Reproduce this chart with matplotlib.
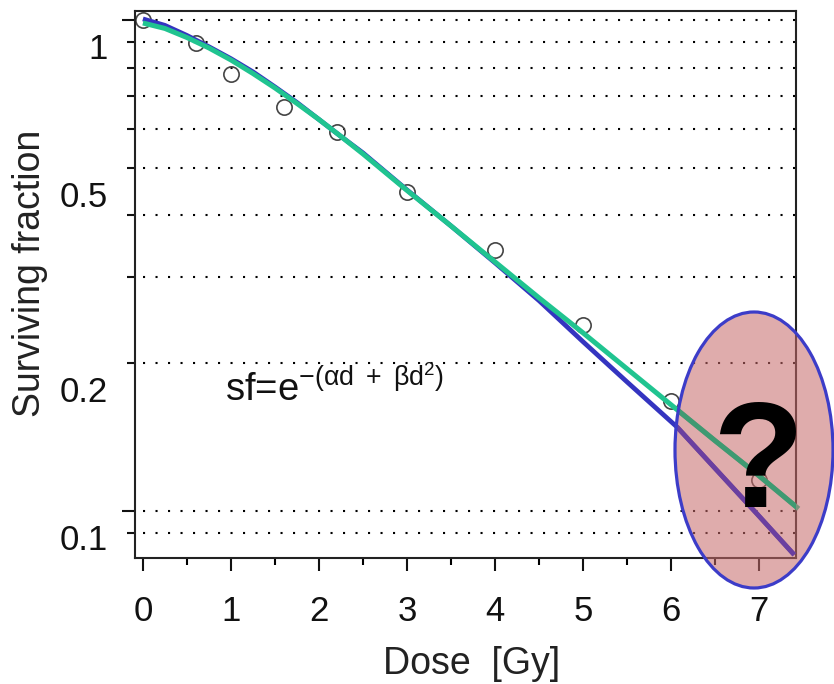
import matplotlib
matplotlib.use("Agg")
import matplotlib.pyplot as plt
import numpy as np
from matplotlib.patches import Ellipse
from matplotlib.ticker import FixedLocator, FixedFormatter, NullFormatter
import matplotlib.transforms as mtransforms

plt.rcParams['font.family'] = ['Liberation Sans', 'DejaVu Sans']
plt.rcParams['mathtext.fontset'] = 'custom'
plt.rcParams['mathtext.rm'] = 'Liberation Sans'
plt.rcParams['mathtext.it'] = 'Liberation Sans'
plt.rcParams['mathtext.default'] = 'rm'

# measured survival points
dose_pts = [0, 0.6, 1.0, 1.6, 2.2, 3.0, 4.0, 5.0, 6.0, 7.0]
sf_pts = [1.0, 0.898, 0.775, 0.666, 0.591, 0.446, 0.340, 0.239, 0.167, 0.1156]

# LQ curve (blue)
dose_lq = [0, 0.25, 0.5, 0.75, 1, 1.25, 1.5, 1.75, 2, 2.25, 2.5, 3, 3.5, 4, 4.5, 5, 5.5, 6.07, 6.5, 7, 7.4]
sf_lq = [1.005, 0.975, 0.930, 0.882, 0.834, 0.784, 0.7305, 0.679, 0.627, 0.579, 0.536, 0.4505, 0.3805,
         0.320, 0.268, 0.221, 0.183, 0.148, 0.122, 0.0975, 0.0813]

# alternative fit (green)
dose_fit = [0, 0.25, 0.5, 0.75, 1, 1.25, 1.5, 1.75, 2, 2.25, 2.5, 3, 3.5, 4, 4.5, 5, 5.5, 6, 6.5, 7, 7.45]
sf_fit = [0.986, 0.961, 0.921, 0.877, 0.829, 0.778, 0.727, 0.676, 0.627, 0.579, 0.5335, 0.4495, 0.3805,
          0.3214, 0.2715, 0.2304, 0.1946, 0.1644, 0.1389, 0.1178, 0.1009]

x_major = [0, 1, 2, 3, 4, 5, 6, 7]
x_minor = [0.5, 1.5, 2.5, 3.5, 4.5, 5.5, 6.5]
y_major = [0.1, 0.2, 0.5, 1.0]
y_major_labels = ['0.1', '0.2', '0.5', '1']
y_minor = [0.09, 0.3, 0.4, 0.6, 0.7, 0.8, 0.9]

W, H = 834, 684
fig = plt.figure(figsize=(W / 100, H / 100), dpi=100)
ax = fig.add_axes([135 / W, 1 - 558 / H, 661 / W, 547 / H])

ax.set_yscale('log')
ax.set_xlim(-0.09, 7.42)
ax.set_ylim(0.0801, 1.043)

# dotted horizontal grid lines
for lev in y_major + y_minor:
    ax.axhline(lev, xmin=0.012, xmax=0.999, color='black', lw=1.5,
               linestyle=(0, (1, 5)), zorder=1)

blue = '#3434c0'
green = '#20c490'

ax.plot(dose_pts, sf_pts, linestyle='none', marker='o', ms=11, mfc='none',
        mec='#444444', mew=1.2, zorder=2)
ax.plot(dose_lq, sf_lq, color=blue, lw=3.4, zorder=3, clip_on=False, solid_capstyle='butt')
ax.plot(dose_fit, sf_fit, color=green, lw=3.6, zorder=4, clip_on=False, solid_capstyle='butt')

# ticks
ax.xaxis.set_major_locator(FixedLocator(x_major))
ax.xaxis.set_minor_locator(FixedLocator(x_minor))
ax.xaxis.set_minor_formatter(NullFormatter())
ax.yaxis.set_major_locator(FixedLocator(y_major))
ax.yaxis.set_major_formatter(FixedFormatter(y_major_labels))
ax.yaxis.set_minor_locator(FixedLocator(y_minor))
ax.yaxis.set_minor_formatter(NullFormatter())

ax.tick_params(axis='x', which='major', direction='out', length=9.5, width=1.5,
               pad=17, labelsize=25, colors='#111111')
ax.tick_params(axis='x', which='minor', direction='out', length=5, width=1.5)
ax.tick_params(axis='y', which='both', direction='out', length=5.5, width=1.5,
               pad=14, labelsize=25, colors='#111111')
ax.tick_params(axis='x', which='both', top=False)
ax.tick_params(axis='y', which='both', right=False)

for sp in ax.spines.values():
    sp.set_linewidth(1.5)
    sp.set_color('#222222')

ax.set_xlabel('Dose  [Gy]', fontsize=27, color='#222222', va='center')
ax.xaxis.set_label_coords(472 / W, 1 - 664 / H, transform=fig.transFigure)
ax.set_ylabel('Surviving fraction', fontsize=27, color='#222222', va='center')
ax.yaxis.set_label_coords(30 / W, 1 - 273 / H, transform=fig.transFigure)

# formula
ax.text(225 / W, 1 - 401 / H, r'sf=e$^{-(\alpha d\ +\ \beta d^2)}$', fontsize=27.5,
        transform=fig.transFigure, va='baseline', ha='left', color='#111111')

# longer ticks at 1 and 0.1, labels shifted down as in the original
ticks = ax.yaxis.get_major_ticks()
for t in (ticks[0], ticks[3]):
    t.tick1line.set_markersize(9.5)
off = mtransforms.ScaledTranslation(0, -0.26, fig.dpi_scale_trans)
for lab in ax.get_yticklabels():
    lab.set_transform(lab.get_transform() + off)

# highlighted ellipse with question mark
ell_c = (754 / W, 1 - 450 / H)
ell_w, ell_h = 158 / W, 276 / H
ell_fill = Ellipse(ell_c, ell_w, ell_h, transform=fig.transFigure, facecolor=(0.78, 0.42, 0.42, 0.56),
                   edgecolor='none', clip_on=False, zorder=5)
ax.add_patch(ell_fill)
l1, = ax.plot(dose_lq, sf_lq, color='#6a3fa0', lw=3.4, zorder=6, solid_capstyle='butt')
l2, = ax.plot(dose_fit, sf_fit, color='#3e9a72', lw=3.6, zorder=6, solid_capstyle='butt')
for ln in (l1, l2):
    ln.set_clip_path(ell_fill)
ell_edge = Ellipse(ell_c, ell_w, ell_h, transform=fig.transFigure, facecolor='none',
                   edgecolor='#3c3cc8', lw=2.3, clip_on=False, zorder=7)
ax.add_patch(ell_edge)
ax.text(758 / W, 1 - 507 / H, '?', fontsize=108, fontweight='bold', ha='center',
        va='baseline', color='black', transform=fig.transFigure, zorder=8, clip_on=False)

fig.savefig('out.png', dpi=100)
